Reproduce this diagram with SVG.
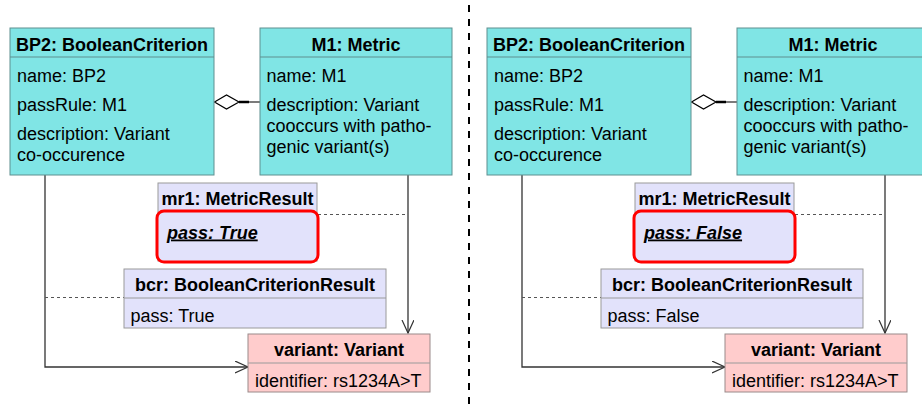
<svg xmlns="http://www.w3.org/2000/svg" width="922" height="407" viewBox="0 0 922 407">
<defs>
<style>
text{font-family:"Liberation Sans",Arial,sans-serif;font-size:18px;fill:#000}
.b{font-weight:bold}
.c{text-anchor:middle}
.cy{fill:#80e5e5;stroke:#5f8f8f;stroke-width:1}
.lv{fill:#e2e2fb;stroke:#9a9a9a;stroke-width:1}
.pk{fill:#ffcccc;stroke:#9a8a8a;stroke-width:1}
.dv{stroke:#5f8f8f;stroke-width:1}
.dvg{stroke:#9a9a9a;stroke-width:1}
.hl{fill:#e2e2fb;stroke:#ff0000;stroke-width:3}
.ln{fill:none;stroke:#333;stroke-width:1.3}
.ds{fill:none;stroke:#555;stroke-width:1.2;stroke-dasharray:3,3}
.pu{font-weight:bold;font-style:italic;text-decoration:underline}
</style>
<marker id="arr" markerWidth="16" markerHeight="16" refX="13" refY="6" orient="auto" markerUnits="userSpaceOnUse">
<path d="M0,0 L13,6 L0,12" fill="none" stroke="#333" stroke-width="1.2"/>
</marker>
</defs>
<line x1="469" y1="5" x2="469" y2="407" stroke="#000" stroke-width="2" stroke-dasharray="7,7"/>
<g id="left">
<g id="connectors-left">
<polyline class="ln" points="45,175 45,367 248,367" marker-end="url(#arr)"/>
<line class="ln" x1="408" y1="175" x2="408" y2="333" marker-end="url(#arr)"/>
<line class="ln" x1="239" y1="102" x2="260" y2="102"/>
<line x1="239" y1="102" x2="249" y2="102" stroke="#000" stroke-width="2.5"/>
<path d="M214.5,102 L226.5,95 L239,102 L226.5,109 Z" fill="#fff" stroke="#000" stroke-width="1.2"/>
<line class="ds" x1="318" y1="214.5" x2="408" y2="214.5"/>
<line class="ds" x1="45" y1="297.5" x2="124" y2="297.5"/>
</g>
<g id="bp2-l">
<rect class="cy" x="10" y="28" width="204" height="147"/>
<line class="dv" x1="10" y1="57" x2="214" y2="57"/>
<text class="b c" x="112" y="51">BP2: BooleanCriterion</text>
<text x="17" y="82">name: BP2</text>
<text x="17" y="111">passRule: M1</text>
<text x="17" y="140">description: Variant</text>
<text x="17" y="161">co-occurence</text>
</g>
<g id="m1-l">
<rect class="cy" x="260" y="28" width="192" height="147"/>
<line class="dv" x1="260" y1="57" x2="452" y2="57"/>
<text class="b c" x="356" y="51">M1: Metric</text>
<text x="266.5" y="82">name: M1</text>
<text x="266.5" y="111">description: Variant</text>
<text x="266.5" y="132">cooccurs with patho-</text>
<text x="266.5" y="153">genic variant(s)</text>
</g>
<g id="mr1-l">
<rect class="lv" x="158" y="183" width="159" height="78"/>
<text class="b c" x="237.5" y="205">mr1: MetricResult</text>
<rect class="hl" x="157" y="211" width="161" height="51" rx="7"/>
<text class="pu" x="167" y="238.5">pass: True</text>
</g>
<g id="bcr-l">
<rect class="lv" x="124" y="269" width="262" height="59"/>
<line class="dvg" x1="124" y1="298" x2="386" y2="298"/>
<text class="b c" x="255" y="291">bcr: BooleanCriterionResult</text>
<text x="130.5" y="321.5">pass: True</text>
</g>
<g id="variant-l">
<rect class="pk" x="248" y="334" width="182" height="58"/>
<line class="dvg" x1="248" y1="363" x2="430" y2="363"/>
<text class="b c" x="339" y="356">variant: Variant</text>
<text x="255" y="386.5">identifier: rs1234A&gt;T</text>
</g>
</g>
<g id="right" transform="translate(477,0)">
<g id="connectors-right">
<polyline class="ln" points="45,175 45,367 248,367" marker-end="url(#arr)"/>
<line class="ln" x1="408" y1="175" x2="408" y2="333" marker-end="url(#arr)"/>
<line class="ln" x1="239" y1="102" x2="260" y2="102"/>
<line x1="239" y1="102" x2="249" y2="102" stroke="#000" stroke-width="2.5"/>
<path d="M214.5,102 L226.5,95 L239,102 L226.5,109 Z" fill="#fff" stroke="#000" stroke-width="1.2"/>
<line class="ds" x1="318" y1="214.5" x2="408" y2="214.5"/>
<line class="ds" x1="45" y1="297.5" x2="124" y2="297.5"/>
</g>
<g id="bp2-r">
<rect class="cy" x="10" y="28" width="204" height="147"/>
<line class="dv" x1="10" y1="57" x2="214" y2="57"/>
<text class="b c" x="112" y="51">BP2: BooleanCriterion</text>
<text x="17" y="82">name: BP2</text>
<text x="17" y="111">passRule: M1</text>
<text x="17" y="140">description: Variant</text>
<text x="17" y="161">co-occurence</text>
</g>
<g id="m1-r">
<rect class="cy" x="260" y="28" width="192" height="147"/>
<line class="dv" x1="260" y1="57" x2="452" y2="57"/>
<text class="b c" x="356" y="51">M1: Metric</text>
<text x="266.5" y="82">name: M1</text>
<text x="266.5" y="111">description: Variant</text>
<text x="266.5" y="132">cooccurs with patho-</text>
<text x="266.5" y="153">genic variant(s)</text>
</g>
<g id="mr1-r">
<rect class="lv" x="158" y="183" width="159" height="78"/>
<text class="b c" x="237.5" y="205">mr1: MetricResult</text>
<rect class="hl" x="157" y="211" width="161" height="51" rx="7"/>
<text class="pu" x="167" y="238.5">pass: False</text>
</g>
<g id="bcr-r">
<rect class="lv" x="124" y="269" width="262" height="59"/>
<line class="dvg" x1="124" y1="298" x2="386" y2="298"/>
<text class="b c" x="255" y="291">bcr: BooleanCriterionResult</text>
<text x="130.5" y="321.5">pass: False</text>
</g>
<g id="variant-r">
<rect class="pk" x="248" y="334" width="182" height="58"/>
<line class="dvg" x1="248" y1="363" x2="430" y2="363"/>
<text class="b c" x="339" y="356">variant: Variant</text>
<text x="255" y="386.5">identifier: rs1234A&gt;T</text>
</g>
</g>
</svg>
